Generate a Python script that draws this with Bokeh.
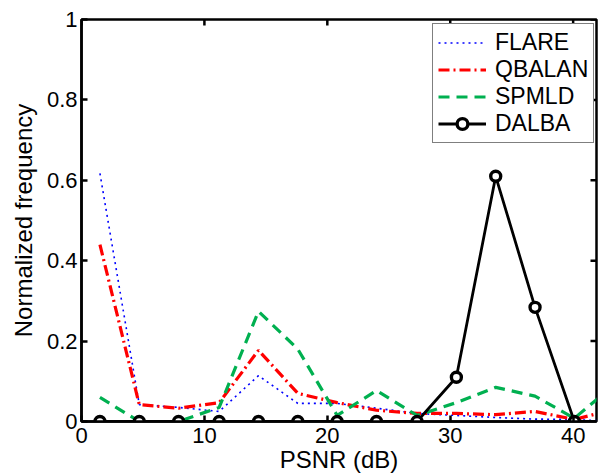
from bokeh.plotting import figure
from bokeh.models import (Range1d, FixedTicker, CustomJSTickFormatter,
                          ColumnDataSource, Legend)
from bokeh.embed import file_html
from bokeh.resources import INLINE

# ---- data ----
psnr = [1.5, 4.7, 7.9, 11.2, 14.4, 17.6, 20.8, 24.0, 27.3, 30.5, 33.7, 36.9, 40.1, 43.3]
flare = [0.617, 0.042, 0.035, 0.025, 0.114, 0.045, 0.045, 0.033, 0.020, 0.015, 0.010, 0.006, 0.005, 0.0]
qbalan = [0.440, 0.042, 0.033, 0.047, 0.177, 0.070, 0.047, 0.028, 0.020, 0.020, 0.017, 0.025, 0.005, 0.030]
spmld = [0.060, 0.0, 0.0, 0.035, 0.274, 0.180, 0.015, 0.077, 0.015, 0.047, 0.085, 0.063, 0.008, 0.090]
dalba = [0.0, 0.0, 0.0, 0.0, 0.0, 0.0, 0.0, 0.0, 0.0, 0.110, 0.610, 0.284, 0.0, 0.0]

x_ticks = [0, 10, 20, 30, 40]
y_ticks = [0, 0.2, 0.4, 0.6, 0.8, 1.0]

X_MAX = 41.9
Y_MAX = 1.0
FONT = "Liberation Sans"

src = ColumnDataSource(dict(x=psnr, flare=flare, qbalan=qbalan, spmld=spmld, dalba=dalba))

p = figure(width=599, height=476, output_backend="svg", toolbar_location=None,
           x_range=Range1d(0, X_MAX), y_range=Range1d(0, Y_MAX),
           min_border_left=81, min_border_right=3, min_border_top=19, min_border_bottom=55)
p.grid.visible = False
p.outline_line_color = "black"
p.outline_line_width = 2.5
p.background_fill_color = "white"
p.border_fill_color = "white"

r1 = p.line("x", "flare", source=src, color="#0000ff", line_width=1.6, line_dash="2 4")
r2 = p.line("x", "qbalan", source=src, color="#ff0000", line_width=3.2, line_dash="11 4 2 4")
r3 = p.line("x", "spmld", source=src, color="#00b050", line_width=3.2, line_dash="11 7")
r4 = p.line("x", "dalba", source=src, color="black", line_width=2.8)
r5 = p.scatter("x", "dalba", source=src, marker="circle", size=10,
               line_color="black", line_width=3.4, fill_color="white")

# mirrored inward ticks on top and right edges (MATLAB box style)
tick_len_x = 6 / 12.3
tick_len_y = 6 / 402
p.segment(x0=x_ticks, y0=[Y_MAX] * len(x_ticks), x1=x_ticks,
          y1=[Y_MAX - tick_len_y] * len(x_ticks), line_color="black", line_width=2.5)
p.segment(x0=[X_MAX] * len(y_ticks), y0=y_ticks, x1=[X_MAX - tick_len_x] * len(y_ticks),
          y1=y_ticks, line_color="black", line_width=2.5)

fmt = CustomJSTickFormatter(code="return String(Math.round(tick*10)/10);")

for ax in (p.xaxis[0], p.yaxis[0]):
    ax.axis_line_width = 2.5
    ax.major_tick_in = 6
    ax.major_tick_out = 0
    ax.major_tick_line_width = 2.5
    ax.minor_tick_line_color = None
    ax.major_label_text_font = FONT
    ax.major_label_text_font_size = "22px"
    ax.major_label_text_color = "black"
    ax.axis_label_text_font = FONT
    ax.axis_label_text_font_size = "24px"
    ax.axis_label_text_font_style = "normal"
    ax.axis_label_text_color = "black"
    ax.formatter = fmt

p.xaxis[0].ticker = FixedTicker(ticks=x_ticks)
p.yaxis[0].ticker = FixedTicker(ticks=y_ticks)
p.xaxis[0].axis_label = "PSNR (dB)"
p.yaxis[0].axis_label = "Normalized frequency"
p.xaxis[0].major_label_standoff = 6
p.yaxis[0].major_label_standoff = 4
p.xaxis[0].axis_label_standoff = 0
p.yaxis[0].axis_label_standoff = 7

legend = Legend(items=[("FLARE", [r1]), ("QBALAN", [r2]), ("SPMLD", [r3]), ("DALBA", [r4, r5])],
                location=(351, 278))
legend.label_text_font = FONT
legend.label_text_font_size = "23px"
legend.label_text_color = "black"
legend.glyph_width = 48
legend.glyph_height = 27
legend.label_height = 27
legend.label_width = 93
legend.spacing = 0
legend.padding = 5
legend.margin = 0
legend.label_standoff = 9
legend.border_line_color = "black"
legend.border_line_width = 1
legend.background_fill_alpha = 1
p.add_layout(legend, "center")

open("out.html", "w").write(file_html(p, INLINE))
